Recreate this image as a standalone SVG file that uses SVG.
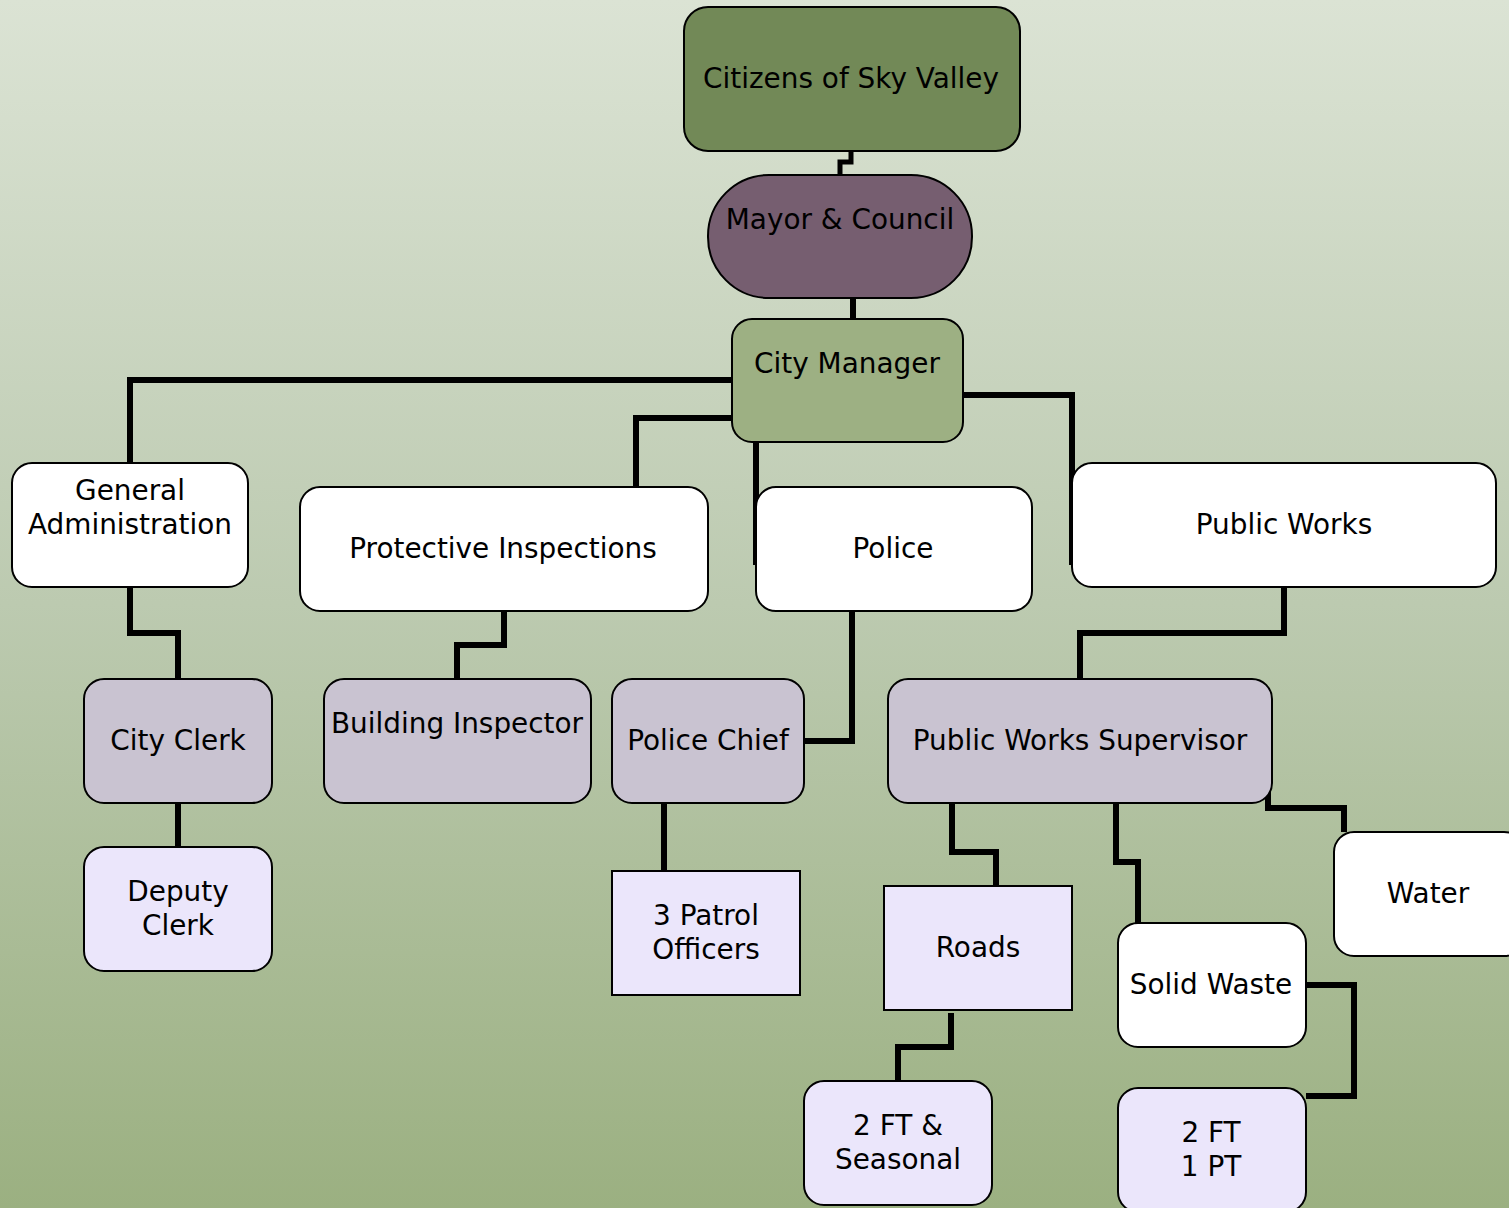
<svg xmlns="http://www.w3.org/2000/svg" width="1509" height="1208" viewBox="0 0 1509 1208">
<defs>
<linearGradient id="bg" x1="0" y1="0" x2="0" y2="1">
<stop offset="0" stop-color="#dbe3d4"/>
<stop offset="0.5" stop-color="#bccab0"/>
<stop offset="1" stop-color="#9bb081"/>
</linearGradient>
</defs>
<style>
.n{stroke:#000;stroke-width:2}
.t{font-family:"DejaVu Sans","Verdana",sans-serif;font-size:27.9px;fill:#000;text-anchor:middle}
.c{fill:none;stroke:#000;stroke-width:6;stroke-linejoin:miter}
.white{fill:#fff}
.grey{fill:#c9c3d1}
.lav{fill:#ebe6fb}
</style>
<rect x="0" y="0" width="1509" height="1208" fill="url(#bg)"/>
<g id="connectors">
<path class="c" style="stroke-width:5" d="M851 151 V162 H840 V175"/>
<path class="c" d="M853 298 V319"/>
<path class="c" d="M732 380 H130 V463"/>
<path class="c" d="M732 418 H636 V487"/>
<path class="c" d="M756 442 V565"/>
<path class="c" d="M963 395 H1072 V565"/>
<path class="c" d="M130 587 V633 H178 V679"/>
<path class="c" d="M178 803 V847"/>
<path class="c" d="M504 611 V645 H457 V679"/>
<path class="c" d="M852 611 V741 H804"/>
<path class="c" d="M1284 587 V633 H1080 V679"/>
<path class="c" d="M952 803 V852 H996 V886"/>
<path class="c" d="M1116 803 V862 H1138 V923"/>
<path class="c" d="M1268 790 V808 H1344 V832"/>
<path class="c" d="M664 803 V871"/>
<path class="c" d="M951 1013 V1047 H898 V1081"/>
<path class="c" d="M1306 985 H1354 V1096 H1306"/>
</g>
<g id="citizens"><rect class="n" x="684" y="7" width="336" height="144" rx="24" fill="#728957"/><text class="t" x="851" y="88">Citizens of Sky Valley</text></g>
<g id="mayor"><rect class="n" x="708" y="175" width="264" height="123" rx="61" fill="#765e70"/><text class="t" x="840" y="229">Mayor &amp; Council</text></g>
<g id="city-manager"><rect class="n" x="732" y="319" width="231" height="123" rx="20" fill="#9db083"/><text class="t" x="847" y="373">City Manager</text></g>
<g id="general-admin"><rect class="n white" x="12" y="463" width="236" height="124" rx="20"/><text class="t" x="130" y="500">General</text><text class="t" x="130" y="534">Administration</text></g>
<g id="protective"><rect class="n white" x="300" y="487" width="408" height="124" rx="20"/><text class="t" x="503" y="558">Protective Inspections</text></g>
<g id="police"><rect class="n white" x="756" y="487" width="276" height="124" rx="20"/><text class="t" x="893" y="558">Police</text></g>
<g id="public-works"><rect class="n white" x="1072" y="463" width="424" height="124" rx="20"/><text class="t" x="1284" y="534">Public Works</text></g>
<g id="city-clerk"><rect class="n grey" x="84" y="679" width="188" height="124" rx="20"/><text class="t" x="178" y="750">City Clerk</text></g>
<g id="building-inspector"><rect class="n grey" x="324" y="679" width="267" height="124" rx="20"/><text class="t" x="457" y="733">Building Inspector</text></g>
<g id="police-chief"><rect class="n grey" x="612" y="679" width="192" height="124" rx="20"/><text class="t" x="708" y="750">Police Chief</text></g>
<g id="pw-supervisor"><rect class="n grey" x="888" y="679" width="384" height="124" rx="20"/><text class="t" x="1080" y="750">Public Works Supervisor</text></g>
<g id="deputy-clerk"><rect class="n lav" x="84" y="847" width="188" height="124" rx="20"/><text class="t" x="178" y="901">Deputy</text><text class="t" x="178" y="935">Clerk</text></g>
<g id="patrol"><rect class="n lav" x="612" y="871" width="188" height="124"/><text class="t" x="706" y="925">3 Patrol</text><text class="t" x="706" y="959">Officers</text></g>
<g id="roads"><rect class="n lav" x="884" y="886" width="188" height="124"/><text class="t" x="978" y="957">Roads</text></g>
<g id="water"><rect class="n white" x="1334" y="832" width="190" height="124" rx="20"/><text class="t" x="1428" y="903">Water</text></g>
<g id="solid-waste"><rect class="n white" x="1118" y="923" width="188" height="124" rx="20"/><text class="t" x="1211" y="994">Solid Waste</text></g>
<g id="roads-staff"><rect class="n lav" x="804" y="1081" width="188" height="124" rx="20"/><text class="t" x="898" y="1135">2 FT &amp;</text><text class="t" x="898" y="1169">Seasonal</text></g>
<g id="sw-staff"><rect class="n lav" x="1118" y="1088" width="188" height="124" rx="20"/><text class="t" x="1211" y="1142">2 FT</text><text class="t" x="1211" y="1176">1 PT</text></g>
</svg>
